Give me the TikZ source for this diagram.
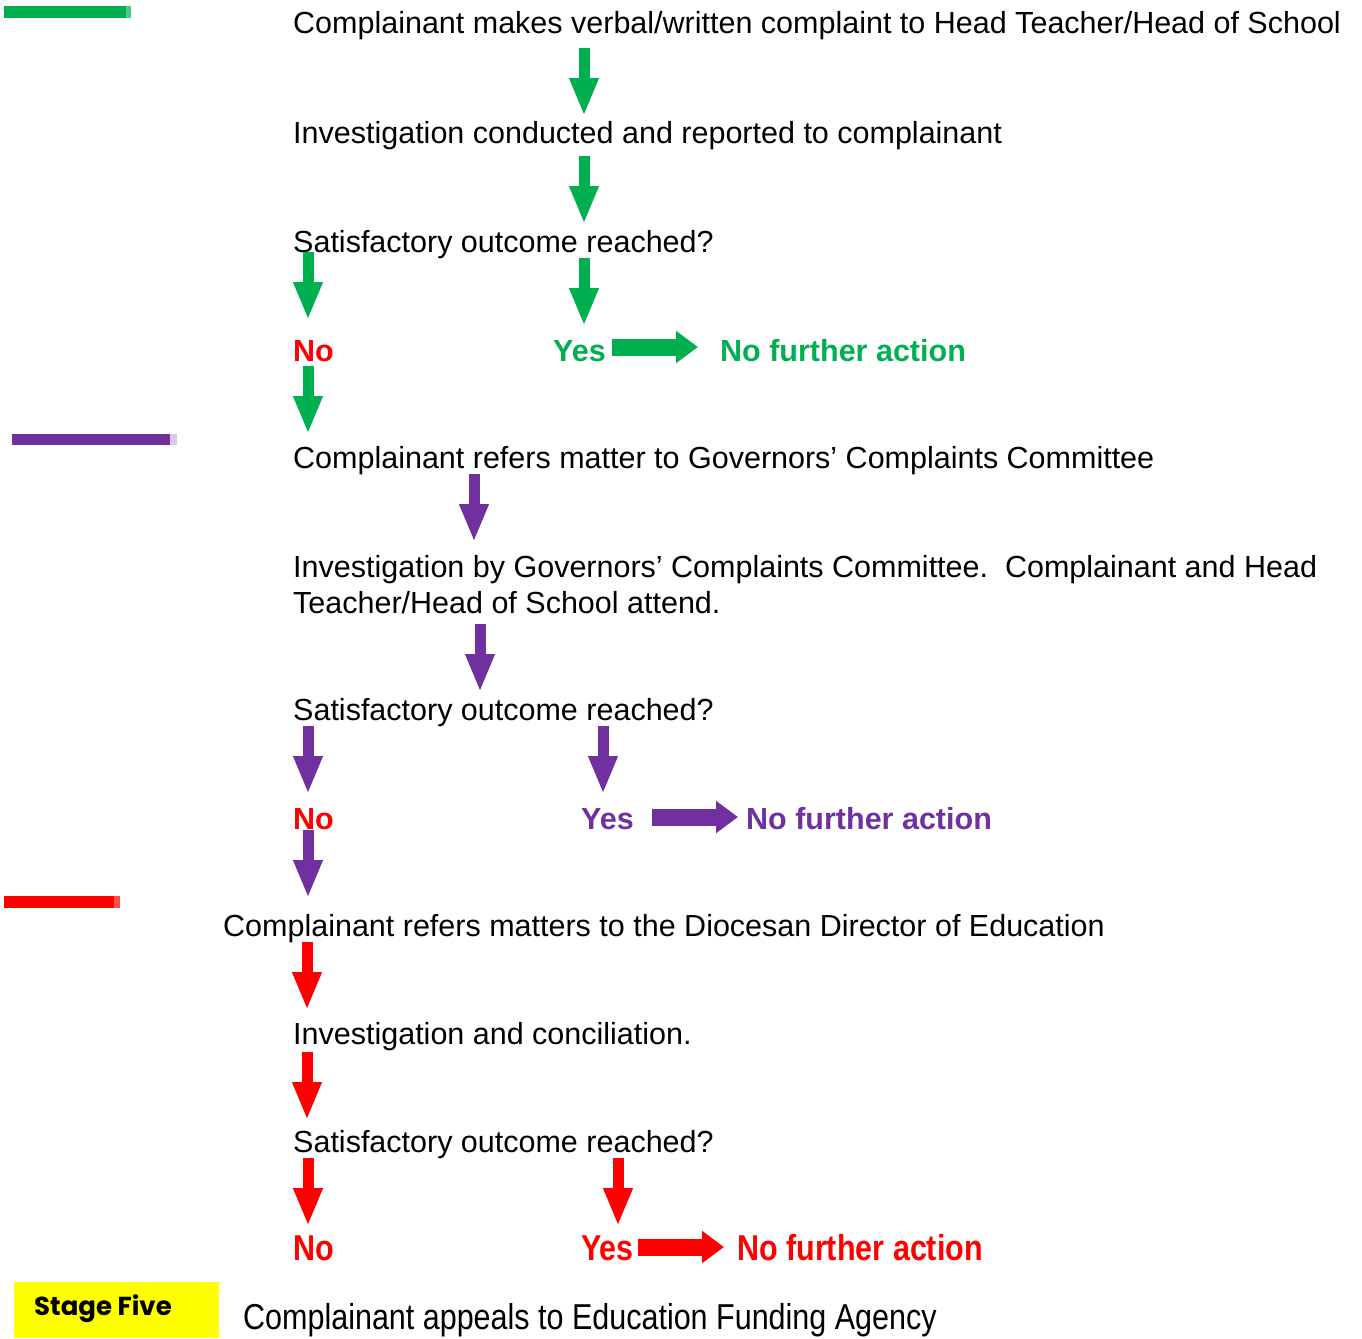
\documentclass[tikz,border=0pt]{standalone}
\usepackage{fontspec}
\usepackage{graphicx}
\setmainfont{Liberation Sans}
\newfontfamily\stagefont{Poppins}
\usetikzlibrary{arrows.meta}
\definecolor{cgreen}{HTML}{00B050}
\definecolor{cgreenl}{HTML}{4CC985}
\definecolor{cpurple}{HTML}{7030A0}
\definecolor{cpurplel}{HTML}{D9C8EA}
\definecolor{cred}{HTML}{FF0000}
\definecolor{credl}{HTML}{FF4A4A}
\definecolor{cyellow}{HTML}{FFFF00}
\tikzset{
  txt/.style={anchor=base west, inner sep=0pt, font=\fontsize{30.5}{36}\selectfont},
  lbl/.style={anchor=base west, inner sep=0pt, font=\bfseries\fontsize{30.5}{36}\selectfont},
  vblk/.style={line width=11pt, -{Triangle[width=27pt,length=38pt]}},
  hblk/.style={line width=17pt, -{Triangle[width=31pt,length=22pt]}},
}
\newcommand{\tallred}[1]{\scalebox{1}[1.18]{#1}}
\begin{document}
\begin{tikzpicture}[x=1pt,y=-1pt]
\useasboundingbox (0,0) rectangle (1362,1338);

% stage bars
\fill[cgreen] (4,6) rectangle (126,18);
\fill[cgreenl] (126,6) rectangle (131,18);
\fill[cpurple] (12,434) rectangle (170,445);
\fill[cpurplel] (170,434) rectangle (177,445);
\fill[cred] (4,896) rectangle (114,908);
\fill[credl] (114,896) rectangle (120,908);

% ---- stage green
\node[txt] (t1) at (293,34) {Complainant makes verbal/written complaint to Head Teacher/Head of School};
\node[txt] (t2) at (293,143) {Investigation conducted and reported to complainant};
\node[txt] (t3) at (293,252) {Satisfactory outcome reached?};
\node[lbl, text=cred] (no1) at (293,361) {No};
\node[lbl, text=cgreen] (yes1) at (553,361) {Yes};
\node[lbl, text=cgreen] (nfa1) at (720,361) {No further action};

\coordinate (g1s) at (584,48);  \coordinate (g1e) at (584,116);
\coordinate (g2s) at (584,156); \coordinate (g2e) at (584,224);
\coordinate (g3s) at (308,252); \coordinate (g3e) at (308,320);
\coordinate (g4s) at (584,258); \coordinate (g4e) at (584,326);
\coordinate (g5s) at (308,366); \coordinate (g5e) at (308,434);
\coordinate (gh1s) at (612,347); \coordinate (gh1e) at (698,347);
\draw[vblk, cgreen] (g1s) -- (g1e);
\draw[vblk, cgreen] (g2s) -- (g2e);
\draw[vblk, cgreen] (g3s) -- (g3e);
\draw[vblk, cgreen] (g4s) -- (g4e);
\draw[vblk, cgreen] (g5s) -- (g5e);
\draw[hblk, cgreen] (gh1s) -- (gh1e);

% ---- stage purple
\node[txt] (t4) at (293,468) {Complainant refers matter to Governors’ Complaints Committee};
\node[txt, anchor=north west, align=left] (t5) at (293,555) {Investigation by Governors’ Complaints Committee.\ \ Complainant and Head\\Teacher/Head of School attend.};
\node[txt] (t6) at (293,720) {Satisfactory outcome reached?};
\node[lbl, text=cred] (no2) at (293,829) {No};
\node[lbl, text=cpurple] (yes2) at (581,829) {Yes};
\node[lbl, text=cpurple] (nfa2) at (746,829) {No further action};

\coordinate (p1s) at (474,474); \coordinate (p1e) at (474,542);
\coordinate (p2s) at (480,624); \coordinate (p2e) at (480,692);
\coordinate (p3s) at (308,726); \coordinate (p3e) at (308,794);
\coordinate (p4s) at (603,726); \coordinate (p4e) at (603,794);
\coordinate (p5s) at (308,830); \coordinate (p5e) at (308,898);
\coordinate (ph1s) at (652,817); \coordinate (ph1e) at (738,817);
\draw[vblk, cpurple] (p1s) -- (p1e);
\draw[vblk, cpurple] (p2s) -- (p2e);
\draw[vblk, cpurple] (p3s) -- (p3e);
\draw[vblk, cpurple] (p4s) -- (p4e);
\draw[vblk, cpurple] (p5s) -- (p5e);
\draw[hblk, cpurple] (ph1s) -- (ph1e);

% ---- stage red
\node[txt] (t7) at (223,936) {Complainant refers matters to the Diocesan Director of Education};
\node[txt] (t8) at (293,1044) {Investigation and conciliation.};
\node[txt] (t9) at (293,1152) {Satisfactory outcome reached?};
\node[lbl, text=cred] (no3) at (293,1260) {\tallred{No}};
\node[lbl, text=cred] (yes3) at (581,1260) {\tallred{Yes}};
\node[lbl, text=cred] (nfa3) at (737,1260) {\tallred{No further action}};

\coordinate (r1s) at (307,942);  \coordinate (r1e) at (307,1010);
\coordinate (r2s) at (307,1052); \coordinate (r2e) at (307,1120);
\coordinate (r3s) at (308,1158); \coordinate (r3e) at (308,1226);
\coordinate (r4s) at (618,1158); \coordinate (r4e) at (618,1226);
\coordinate (rh1s) at (638,1247); \coordinate (rh1e) at (724,1247);
\draw[vblk, cred] (r1s) -- (r1e);
\draw[vblk, cred] (r2s) -- (r2e);
\draw[vblk, cred] (r3s) -- (r3e);
\draw[vblk, cred] (r4s) -- (r4e);
\draw[hblk, cred] (rh1s) -- (rh1e);

% ---- stage five
\fill[cyellow] (14,1282) rectangle (219,1338);
\node[inner sep=0pt, font=\stagefont\bfseries\fontsize{26}{30}\selectfont] (s5) at (103,1309) {Stage Five};
\node[txt] (t10) at (243,1329) {\tallred{Complainant appeals to Education Funding Agency}};
\end{tikzpicture}
\end{document}
